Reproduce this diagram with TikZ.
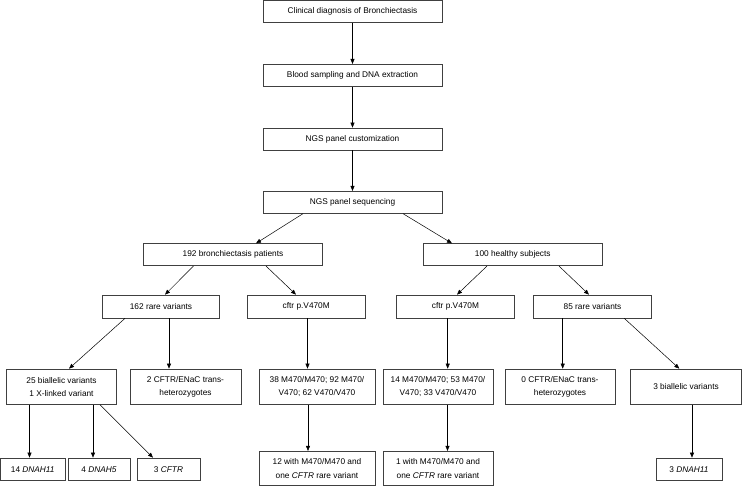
\documentclass[tikz,border=0pt]{standalone}
\usepackage{fontspec}
\setmainfont{Liberation Sans}
\usetikzlibrary{arrows.meta}

\begin{document}
\begin{tikzpicture}[x=1pt,y=-1pt,
  box/.style={draw=black!75,line width=0.7pt,align=center,inner sep=0pt,
    minimum height=22pt,font=\fontsize{8.3}{13.3}\selectfont},
  tallbox/.style={box,minimum height=35.5pt},
  arr/.style={draw=black,line width=0.5pt,-{Triangle[length=5pt,width=4pt]}}]
\useasboundingbox (0,0) rectangle (742,487);
% main line
\node[box,minimum width=179pt] (diag) at (352.5,11.5) {Clinical diagnosis of Bronchiectasis};
\node[box,minimum width=179pt] (blood) at (352.5,75.3) {Blood sampling and DNA extraction};
\node[box,minimum width=179pt] (custom) at (352.5,139) {NGS panel customization};
\node[box,minimum width=179pt] (seq) at (352.5,202.3) {NGS panel sequencing};
% cohorts
\node[box,minimum width=179pt] (pat) at (233,254.7) {192 bronchiectasis patients};
\node[box,minimum width=179.5pt] (healthy) at (512.75,254.7) {100 healthy subjects};
\node[box,minimum width=117pt,minimum height=23pt] (rareA) at (161,306.5) {162 rare variants};
\node[box,minimum width=117.5pt,minimum height=23pt] (cftrA) at (306.25,306.5) {cftr p.V470M};
\node[box,minimum width=118pt,minimum height=23pt] (cftrB) at (455.5,306.5) {cftr p.V470M};
\node[box,minimum width=118pt,minimum height=23pt] (rareB) at (592.5,306.5) {85 rare variants};
% results
\node[tallbox,minimum width=110pt] (biA) at (61.5,386.75) {25 biallelic variants\\1 X-linked variant};
\node[tallbox,minimum width=111pt] (hetA) at (185.5,386.75) {2 CFTR/ENaC trans-\\heterozygotes};
\node[tallbox,minimum width=116pt] (mixA) at (317,386.75) {38 M470/M470; 92 M470/\\V470; 62 V470/V470};
\node[tallbox,minimum width=110pt] (mixB) at (438,386.75) {14 M470/M470; 53 M470/\\V470; 33 V470/V470};
\node[tallbox,minimum width=110pt] (hetB) at (560,386.75) {0 CFTR/ENaC trans-\\heterozygotes};
\node[tallbox,minimum width=111pt] (biB) at (686,386.75) {3 biallelic variants};
% genes
\node[box,minimum width=64.5pt,minimum height=22.5pt] (dnahA) at (32.75,469.25) {14 \textit{DNAH11}};
\node[box,minimum width=62pt,minimum height=22.5pt] (dnahF) at (99,469.25) {4 \textit{DNAH5}};
\node[box,minimum width=63pt,minimum height=22.5pt] (cftrG) at (168.5,469.25) {3 \textit{CFTR}};
\node[tallbox,minimum width=116pt,minimum height=34.5pt] (withA) at (317,468.5) {12 with M470/M470 and\\one \textit{CFTR} rare variant};
\node[tallbox,minimum width=110pt,minimum height=34.5pt] (withB) at (438,468.5) {1 with M470/M470 and\\one \textit{CFTR} rare variant};
\node[box,minimum width=66pt,minimum height=22.5pt] (dnahB) at (689,469.25) {3 \textit{DNAH11}};
% arrows
\draw[arr] (diag.south) -- (blood.north);
\draw[arr] (blood.south) -- (custom.north);
\draw[arr] (custom.south) -- (seq.north);
\draw[arr] ([xshift=-49.5pt]seq.south) -- ([xshift=23pt]pat.north);
\draw[arr] ([xshift=50.5pt]seq.south) -- ([xshift=-60.75pt]healthy.north);
\draw[arr] ([xshift=-39.5pt]pat.south) -- ([xshift=4pt]rareA.north);
\draw[arr] ([xshift=33pt]pat.south) -- ([xshift=-10.25pt]cftrA.north);
\draw[arr] ([xshift=-25.75pt]healthy.south) -- ([xshift=1.5pt]cftrB.north);
\draw[arr] ([xshift=46.25pt]healthy.south) -- ([xshift=-3.5pt]rareB.north);
\draw[arr] ([xshift=-36pt]rareA.south) -- ([xshift=7.5pt]biA.north);
\draw[arr] ([xshift=8pt]rareA.south) -- ([xshift=-16.5pt]hetA.north);
\draw[arr] ([xshift=1.25pt]cftrA.south) -- ([xshift=-9.5pt]mixA.north);
\draw[arr] ([xshift=-7.8pt]cftrB.south) -- ([xshift=9.7pt]mixB.north);
\draw[arr] ([xshift=-29.8pt]rareB.south) -- ([xshift=2.7pt]hetB.north);
\draw[arr] ([xshift=31.8pt]rareB.south) -- ([xshift=-6.7pt]biB.north);
\draw[arr] ([xshift=-32pt]biA.south) -- ([xshift=-3.25pt]dnahA.north);
\draw[arr] ([xshift=31.5pt]biA.south) -- ([xshift=-6pt]dnahF.north);
\draw[arr] ([xshift=38.5pt]biA.south) -- ([xshift=-15.5pt]cftrG.north);
\draw[arr] ([xshift=-9pt]mixA.south) -- ([xshift=-9pt]withA.north);
\draw[arr] ([xshift=9.5pt]mixB.south) -- ([xshift=9.5pt]withB.north);
\draw[arr] ([xshift=6pt]biB.south) -- ([xshift=3pt]dnahB.north);
\end{tikzpicture}
\end{document}
